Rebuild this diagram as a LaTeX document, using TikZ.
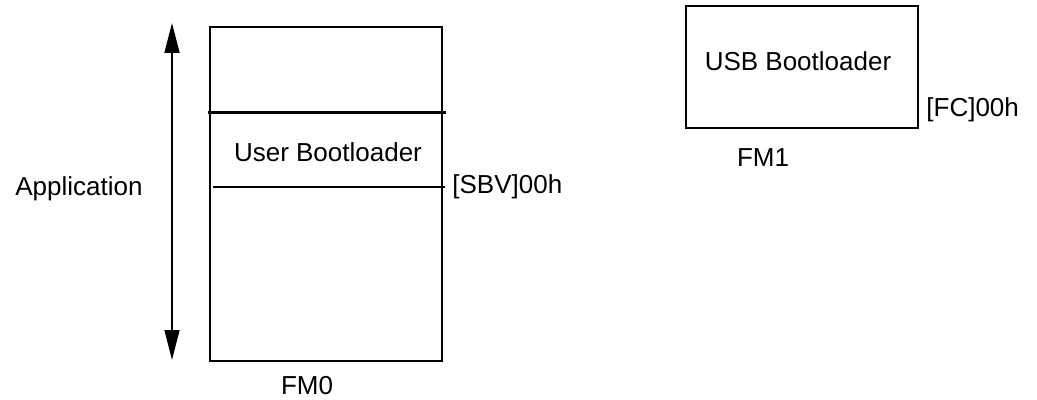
\documentclass[tikz,border=0pt]{standalone}
\usepackage{fontspec}
\setmainfont{Liberation Sans}
\usetikzlibrary{arrows.meta}
\begin{document}
\begin{tikzpicture}[x=0.5pt,y=-0.5pt,
  lbl/.style={font=\fontsize{13pt}{15pt}\selectfont, inner sep=0pt, anchor=base},
  lbll/.style={lbl, anchor=base west},
  boxline/.style={line width=1pt},
  thickline/.style={line width=1.5pt},
  thinline/.style={line width=0.9pt},
  dblarrow/.style={line width=0.8pt, {Triangle[width=7.5pt,length=15pt]}-{Triangle[width=7.5pt,length=15pt]}}]
\useasboundingbox (0,0) rectangle (1037,400);
% FM0 box
\coordinate (fm0tl) at (210,27);
\coordinate (fm0br) at (442,361);
\draw[boxline] (fm0tl) rectangle (fm0br);
\coordinate (tl1) at (208,113);
\coordinate (tl2) at (446,113);
\draw[thickline] (tl1) -- (tl2);
\coordinate (sl1) at (213,187);
\coordinate (sl2) at (445,187);
\draw[thinline] (sl1) -- (sl2);
% arrow
\coordinate (atop) at (172,23);
\coordinate (abot) at (172,360);
\draw[dblarrow] (atop) -- (abot);
% FM1 box
\coordinate (fm1tl) at (686,6);
\coordinate (fm1br) at (918,128);
\draw[boxline] (fm1tl) rectangle (fm1br);
% labels
\node[lbl] (ub) at (328,162) {User Bootloader};
\node[lbl] (app) at (79,196) {Application};
\node[lbll] (sbv) at (452,194) {[SBV]00h};
\node[lbl] (fm0) at (307,394) {FM0};
\node[lbl] (usb) at (798,71) {USB Bootloader};
\node[lbll] (fc) at (926,117) {[FC]00h};
\node[lbl] (fm1) at (763,167) {FM1};
\end{tikzpicture}
\end{document}
